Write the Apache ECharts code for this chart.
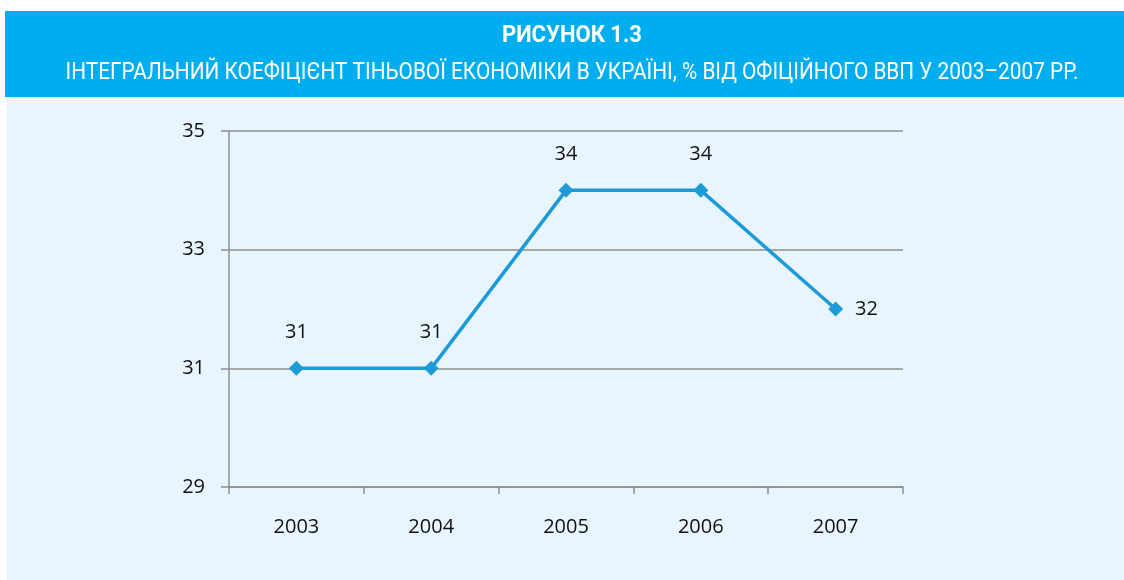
<!DOCTYPE html>
<html>
<head>
<meta charset="utf-8">
<script src="https://cdn.jsdelivr.net/npm/echarts@6/dist/echarts.min.js"></script>
<style>
  html, body { margin: 0; padding: 0; background: #fff; }
  #main { width: 1124px; height: 580px; }
</style>
</head>
<body>
<div id="main"></div>
<script>
const years = ['2003', '2004', '2005', '2006', '2007'];
const shadowShare = [31, 31, 34, 34, 32];
const labelSides = ['top', 'top', 'top', 'top', 'right'];

const figureTitle = 'РИСУНОК 1.3';
const figureSubtitle = 'ІНТЕГРАЛЬНИЙ КОЕФІЦІЄНТ ТІНЬОВОЇ ЕКОНОМІКИ В УКРАЇНІ, % ВІД ОФІЦІЙНОГО ВВП У 2003–2007 РР.';

const myChart = echarts.init(document.getElementById('main'));

const gray = '#8f8f8f';
const numFont = '"Open Sans", sans-serif';
const titleFont = 'bold 24px Roboto, sans-serif';
const subFont = '24px Roboto, sans-serif';

// squeeze the heading texts horizontally, the original uses a condensed face
const measure = (text, font) => {
  const ctx = document.createElement('canvas').getContext('2d');
  ctx.font = font;
  return ctx.measureText(text).width;
};
const titleScale = 140 / measure(figureTitle, titleFont);
const subScale = 1013 / measure(figureSubtitle, subFont);
const centerX = 572;

const points = shadowShare.map((v, i) => ({
  value: v,
  label: {
    position: labelSides[i],
    distance: labelSides[i] === 'right' ? 12 : 19,
  },
}));

const option = {
  backgroundColor: '#ffffff',
  graphic: [
    {
      type: 'rect',
      z: -10,
      shape: { x: 5, y: 11, width: 1119, height: 86 },
      style: { fill: '#00aeef' },
    },
    {
      type: 'rect',
      z: -10,
      shape: { x: 7, y: 98, width: 1117, height: 482 },
      style: { fill: '#e8f5fc' },
    },
    {
      type: 'text',
      x: centerX,
      y: 36,
      originX: 0,
      scaleX: titleScale,
      style: {
        text: figureTitle,
        fill: '#ffffff',
        font: titleFont,
        align: 'center',
        verticalAlign: 'middle',
      },
    },
    {
      type: 'text',
      x: centerX,
      y: 73,
      originX: 0,
      scaleX: subScale,
      style: {
        text: figureSubtitle,
        fill: '#ffffff',
        font: subFont,
        align: 'center',
        verticalAlign: 'middle',
      },
    },
  ],
  grid: {
    left: 229,
    right: 221,
    top: 131,
    bottom: 93,
  },
  xAxis: {
    type: 'category',
    data: years,
    boundaryGap: true,
    axisLine: { lineStyle: { color: gray, width: 1.5 } },
    axisTick: { show: true, length: 7, lineStyle: { color: gray, width: 1.5 } },
    axisLabel: {
      margin: 30,
      color: '#111',
      fontFamily: numFont,
      fontSize: 20,
    },
  },
  yAxis: {
    type: 'value',
    min: 29,
    max: 35,
    interval: 2,
    axisLine: { show: true, lineStyle: { color: gray, width: 1.5 } },
    axisTick: { show: true, length: 8, lineStyle: { color: gray, width: 1.5 } },
    splitLine: { lineStyle: { color: gray, width: 1.5 } },
    axisLabel: {
      margin: 24,
      color: '#111',
      fontFamily: numFont,
      fontSize: 20,
    },
  },
  series: [
    {
      type: 'line',
      data: points,
      color: '#1d9bd7',
      symbol: 'diamond',
      symbolSize: 15,
      lineStyle: { width: 3.5 },
      label: {
        show: true,
        color: '#111',
        fontFamily: numFont,
        fontSize: 20,
      },
    },
  ],
};

myChart.setOption(option);
</script>
</body>
</html>
